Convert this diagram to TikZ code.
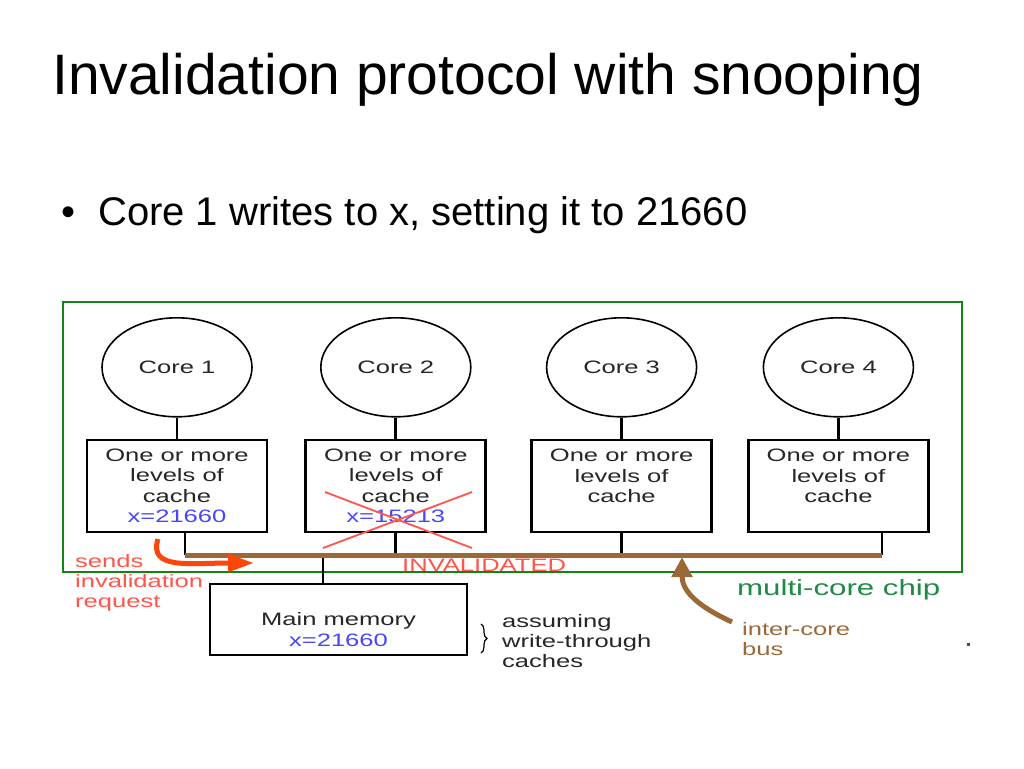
\documentclass[tikz,border=0pt]{standalone}
\usepackage{fontspec}
\setmainfont{Liberation Sans}
\newfontfamily\diagfont[FakeStretch=1.42]{Liberation Sans}
\usetikzlibrary{positioning, arrows.meta, shapes.geometric, decorations.pathreplacing}

\definecolor{chipgreen}{RGB}{20,130,20}
\definecolor{labelgreen}{RGB}{30,140,70}
\definecolor{busbrown}{RGB}{155,105,55}
\definecolor{valblue}{RGB}{70,70,255}
\definecolor{warnred}{RGB}{255,85,75}
\definecolor{sendorange}{RGB}{255,70,10}

\newcommand{\diagtext}{\diagfont\fontsize{18}{20.5}\selectfont}

\begin{document}
\begin{tikzpicture}[
    x=1pt, y=-1pt,
    core/.style = {ellipse, draw, line width=1.6pt, minimum width=150pt, minimum height=99pt, inner sep=0pt, font=\diagtext, text=black!85},
    cache/.style = {rectangle, draw, line width=2.8pt, align=center, minimum width=180pt, minimum height=92pt, inner sep=0pt, font=\diagtext, text=black!85},
    mem/.style = {cache, minimum width=257pt, minimum height=71pt},
    wire/.style = {line width=2.8pt},
    bus/.style = {line width=5pt, busbrown},
    note/.style = {inner sep=0pt, align=left, font=\diagfont\fontsize{18}{20}\selectfont},
    bigarrow/.style = {line width=5pt, -{Triangle[length=26pt, width=17pt]}}
]
    \fill[white] (0,0) rectangle (1024,768);
    \useasboundingbox (0,0) rectangle (1024,768);

    \node[anchor=base west, inner sep=0pt, font=\fontsize{57}{62}\selectfont] (TITLE) at (52,94) {Invalidation protocol with snooping};
    \node[anchor=base west, inner sep=0pt, font=\fontsize{40}{44}\selectfont] (BULLET) at (61,225) {\textbullet};
    \node[anchor=base west, inner sep=0pt, font=\fontsize{40}{44}\selectfont] (POINT) at (98,225) {Core 1 writes to x, setting it to 21660};

    % chip outline
    \draw[chipgreen, line width=2.5pt] (63,302) rectangle (962,572);

    \node[cache] (L1) at (177,486) {One or more\\levels of\\cache\\\textcolor{valblue}{x=21660}};
    \node[cache, right=36pt of L1] (L2) {One or more\\levels of\\cache\\\textcolor{valblue}{x=15213}};
    \node[cache, right=43pt of L2] (L3) {One or more\\levels of\\cache\\\mbox{}};
    \node[cache, right=34pt of L3] (L4) {One or more\\levels of\\cache\\\mbox{}};

    \node[core, above=21pt of L1] (C1) {Core 1};
    \node[core, above=21pt of L2] (C2) {Core 2};
    \node[core, above=21pt of L3] (C3) {Core 3};
    \node[core, above=21pt of L4] (C4) {Core 4};

    \node[mem] (MEM) at (338.5,619.5) {\rule{0pt}{33pt}Main memory\\\textcolor{valblue}{x=21660}};

    % bus
    \coordinate (BW) at (185,555);
    \coordinate (BE) at (882,555);
    \coordinate (TAP) at (323,555);

    \draw[wire] (C1) -- (L1);
    \draw[wire] (C2) -- (L2);
    \draw[wire] (C3) -- (L3);
    \draw[wire] (C4) -- (L4);
    \draw[wire] (L1.south -| BW) -- (BW);
    \draw[wire] (L2.south) -- (L2.south |- BW);
    \draw[wire] (L3.south) -- (L3.south |- BW);
    \draw[wire] (L4.south -| BE) -- (BE);
    \draw[wire] (TAP) -- (TAP |- MEM.north);
    \draw[bus] (BW) -- (BE);

    % stale copy crossed out
    \draw[warnred, line width=1.8pt] (325,492) -- (472,548) (323,548) -- (472,492);

    \node[note, anchor=base west, text=warnred] (INV) at (402,571.5) {INVALIDATED};
    \node[note, anchor=north west, text=warnred] (SENDS) at (75,554) {sends\\invalidation\\request};
    \node[note, anchor=base west, text=labelgreen, font=\diagfont\fontsize{22}{26}\selectfont] (CHIP) at (737,595) {multi-core chip};
    \node[note, anchor=north west, text=busbrown] (BUSLBL) at (742,622) {inter-core\\bus};
    \node[note, anchor=north west, text=black!85] (WT) at (502,614) {assuming\\write-through\\caches};
    \draw[decorate, decoration={brace, amplitude=6pt}, line width=1.2pt] (481,624) -- (481,653);

    \coordinate (SENDFROM) at (158,539);
    \coordinate (SENDTO) at (254,563);
    \draw[bigarrow, sendorange] (SENDFROM) .. controls (148,570) and (190,563) .. (SENDTO);

    \coordinate (BUSFROM) at (732,622);
    \coordinate (BUSTIP) at (682,557);
    \draw[line width=5pt, busbrown, -{Triangle[length=20pt, width=20pt]}] (BUSFROM) .. controls (695,605) and (682,590) .. (BUSTIP);

    \fill[black!70] (967,643) rectangle (970,646);
\end{tikzpicture}
\end{document}
